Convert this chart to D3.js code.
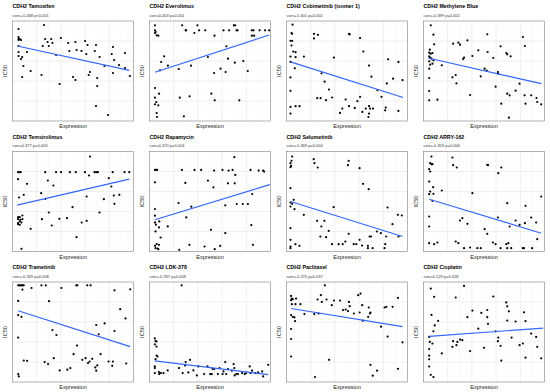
<!DOCTYPE html>
<html>
<head>
<meta charset="utf-8">
<script src="https://cdn.jsdelivr.net/npm/d3@7"></script>
<style>
  body { margin: 0; background: #fff; }
  svg { display: block; font-family: 'Liberation Sans', Arial, sans-serif; }
</style>
</head>
<body>
<svg id="chart" width="550" height="392"></svg>
<script>
// drug names, correlation and p values as printed in the subtitles
const drugs = ['Tamoxifen', 'Everolimus', 'Cobimetinib (isomer 1)', 'Methylene Blue',
  'Temsirolimus', 'Rapamycin', 'Selumetinib', 'ARRY-162',
  'Trametinib', 'LDK-378', 'Paclitaxel', 'Cisplatin'];
const corr = [-0.448, 0.403, -0.401, -0.399, 0.377, 0.370, -0.369, -0.353, -0.339, -0.337, -0.270, 0.129];
const pvals = ['p<0.001', 'p=0.001', 'p=0.002', 'p=0.002', 'p=0.003', 'p=0.004',
  'p=0.004', 'p=0.006', 'p=0.008', 'p=0.008', 'p=0.037', 'p=0.326'];

// fitted lm line, [expression, IC50] at both ends (scaled 0-100 per panel)
const fitStart = [[4, 75], [4.5, 48.7], [3.3, 59.1], [3.8, 63], [3.8, 46.3], [4.5, 31.8],
  [3.3, 50], [4.7, 52.3], [4.7, 71.2], [4.4, 21.2], [3.8, 73.5], [4.7, 45.7]];
const fitEnd = [[96.5, 50.7], [98.9, 86], [96.4, 23.5], [97.3, 37.3], [96.5, 72.3], [99.4, 66.9],
  [95.9, 15], [97.3, 18.3], [97.3, 35.4], [98.1, 7.3], [95.9, 55.3], [98.9, 53.9]];

// [expression, IC50] per cell line, scaled 0-100 per panel
const tamoxifen = [[5,92],[5,84],[5,82],[5,81],[6,82],[7,81],[5,75],[5,69],[5,65],[7,62],[8,64],[9,55],[8,44],[12,69],[15,50],[24,46],[26,96],[27,82],[25,75],[29,79],[30,75],[32,82],[33,78],[36,66],[39,37],[40,83],[46,78],[47,70],[50,44],[52,79],[52,41],[53,71],[57,70],[60,80],[62,76],[61,67],[64,49],[63,46],[68,70],[69,76],[72,64],[70,43],[70,35],[69,15],[76,55],[79,6],[82,67],[83,74],[84,61],[83,48],[88,56],[93,68],[93,53],[97,45]];
const everolimus = [[4.5,95.7],[4.5,90.7],[5.1,89],[4.5,88],[5.9,85.7],[7.3,85.3],[27,95.7],[29.8,90.7],[30.3,90.7],[39.6,95.7],[41,90.7],[37.1,88],[46.1,90.7],[53.7,85.3],[61.2,90.7],[65.7,90.7],[69.7,95.7],[70.8,95.7],[71.9,90.7],[72.8,90.7],[84.6,90.7],[86,90.7],[84.6,85.3],[86.5,85.3],[91,90.7],[95.5,90.7],[98.9,90.7],[63.5,74.7],[12.1,64.7],[9.6,59],[15.2,55.3],[8.7,50.7],[24.2,52],[34.3,55.3],[48.3,64],[64.9,62.3],[70.5,58.3],[77.5,60],[81.2,50],[58.7,52.3],[62.9,49],[53.4,48],[4.5,33],[7.9,27.3],[4.5,23.3],[5.6,19],[4.5,16.7],[7.3,15.7],[5.9,8],[6.2,4],[28.4,4.7],[25,23.3],[33.1,24.7],[51.1,27.3],[53.9,20.7],[74.2,20.7]];
const cobimetinib = [[5,96.3],[4.1,88],[4.7,87.2],[3.3,80.2],[4.7,80.2],[4.1,75.5],[5.5,69.5],[7.5,68.8],[7.5,63.8],[3.3,64.4],[14.4,64.4],[3.3,59.1],[6.9,52.7],[3.3,43.6],[3.3,30.2],[3.3,14.1],[3.3,7.4],[7.5,14.8],[10.8,14.8],[22.7,87.2],[22.7,82.6],[26,86.2],[51.7,87.2],[52.2,86.6],[60.8,82.9],[63.5,69.5],[39.2,63.4],[29,47.7],[31.5,39.3],[35.1,31.5],[25.4,22.8],[28.2,22.8],[32.6,20.8],[37.8,23.5],[48.9,21.5],[44.2,8.1],[46.1,12.4],[51.7,14.8],[56.4,13.1],[58.6,19.8],[60.8,24.2],[62.7,9.1],[65.5,12.4],[68.2,14.8],[69.1,12.4],[71.5,12.4],[67.7,4],[68.2,7.4],[68.2,55.4],[70.2,44.3],[75.1,30.9],[78.5,24.2],[82,13.4],[82.9,37.6],[84,61.7],[88.1,42.3],[92.5,59.1],[95.9,40.9],[92.5,10.1],[81.5,10.7]];
const methyleneBlue = [[6,95.7],[8.2,86.3],[8.8,76.7],[5.2,71.3],[4.7,68.3],[6,67.3],[7.4,68],[4.7,64.7],[5.5,63.3],[6.6,62.3],[8.2,60.7],[4.7,59.7],[7.4,57.3],[5.5,56.3],[4.7,52.3],[4.7,43],[4.7,30],[4.7,20.7],[11.5,21.3],[15.1,55.7],[24.5,77.3],[28.8,78.3],[30.2,76.3],[36.3,80.7],[33.5,63.3],[32.7,62],[40.4,65],[45.3,70.7],[53,69],[52.7,86.7],[57.7,63],[50.5,52.3],[52.2,50.3],[47.3,44.7],[23.9,43.7],[26.6,46],[27.2,37.7],[38.5,26],[61.5,49],[61.8,47.3],[59.6,34.3],[64.3,17.3],[63.7,74.7],[68.4,68],[69.2,66.7],[72,64.7],[69.2,27.3],[71.2,25.7],[76.1,30.3],[79.4,37.3],[82.1,84],[83.8,75],[83.5,25.7],[84.3,17.3],[89,25.7],[93.4,23],[94,19],[97.3,16.7],[70.6,3.3]];
const temsirolimus = [[4.6,79.3],[6,79.3],[6.8,79.3],[27,79.3],[36,79.3],[40.1,79.3],[47.4,79.3],[52.3,79.3],[59.9,79.3],[67.8,79.3],[69.2,79.3],[70.6,79.3],[82.8,79.3],[92.6,79.3],[96.5,79.3],[64,95],[4.6,72.3],[29.2,71],[12,67.7],[33.8,66],[63.2,76],[79.6,73.3],[23.7,58.3],[9.3,56.7],[5.4,54],[27.2,52.7],[61.3,55],[75.5,52.3],[83.7,56],[88.3,56.7],[81.7,65],[84.2,47.7],[49.6,44.3],[30,39],[71.9,39],[4.6,34.3],[6,34.3],[4.6,32.3],[6.5,31.7],[8.2,32.3],[6,30],[4.6,28.3],[7.4,29],[6,26.7],[4.6,27.3],[8.2,36],[15,22.7],[24.3,32.3],[32.4,26],[38.7,32.7],[45,33.3],[57.2,29],[61.3,30.7],[52.9,14.3],[7.4,2.7]];
const rapamycin = [[4.5,81.6],[5.3,81.6],[6.4,81.6],[26.8,81.6],[37.2,81.6],[42.7,81.6],[53.4,80.9],[60.3,81.6],[65.4,80.9],[68.7,81.6],[83.5,81.6],[90.2,80.9],[93.9,80.9],[94.7,79.9],[70.1,94.3],[4.5,69.2],[29.6,68.6],[48.3,70.9],[52.8,64.2],[64.8,68.2],[70.4,68.2],[70.9,76.6],[84.9,57.5],[24,48.5],[34.6,44.8],[62.6,46.2],[72.1,47.5],[77.1,47.5],[81.3,47.5],[4.5,42.5],[4.5,35.8],[4.5,29.1],[8.1,30.1],[5.3,26.8],[5,20.1],[7.8,24.1],[15.1,25.1],[30.4,34.1],[9.2,14],[5.9,7.4],[7.8,6.7],[4.5,5.7],[6.7,3],[5,3.3],[7.3,2.3],[24.6,1.7],[33,6.7],[45.5,5],[53.9,2.3],[58.4,5.7],[50.8,21.7],[62.6,18.4],[84.1,26.4],[85.5,6.7]];
const selumetinib = [[4.7,95],[4.1,90.7],[3.3,88.3],[3.8,85.7],[3.3,84.3],[22.5,92.3],[23.1,88.3],[25.8,84],[51.4,90.7],[50.8,86.3],[60.4,83.3],[63.2,67.7],[67.9,62.3],[3.3,63.3],[3.3,49],[3.3,45],[4.7,47.7],[6,51.7],[6.6,42.3],[14.3,36.7],[39,44.3],[25.3,30.7],[31.3,30.7],[28.8,25],[34.9,20.7],[28,15],[32.7,14.3],[37.6,7.3],[43.1,7.3],[46.4,7.3],[48.6,10],[55.5,7.3],[57.7,7.3],[51.4,17.7],[60.4,11.7],[62.4,6],[67.3,5.7],[68.7,15],[69.8,15],[71.2,3.3],[67.3,3.3],[74.7,20],[78,18.3],[81,3.3],[81.6,7.3],[82.4,15],[83.5,44],[87.6,27.3],[92,36.7],[95.3,36],[92.6,15],[3.3,23.3],[3.3,11.7],[7.4,7.3],[10.7,5.7],[3.3,5],[3.3,3.3]];
const arry162 = [[6.6,95],[5.5,88.3],[6.6,87.3],[7.4,87.3],[4.7,82.3],[5.5,80],[8,64.3],[5.5,60],[4.7,57.3],[8.2,57.7],[7.4,50.7],[15.1,61],[4.7,70],[23.9,94],[24.5,86.3],[27.5,84],[52.7,86.7],[53.3,86.3],[61.8,78.3],[64.3,84],[40.4,58.3],[32.1,33.3],[30.2,31],[36.3,27.7],[50.5,22.3],[52.7,17.7],[61.5,34],[69.2,48.3],[71.2,25],[76.1,31],[79.4,26.7],[83.8,28.3],[84.3,45.7],[89,34],[93.1,29],[97.3,55],[94,12.3],[4.7,35],[4.7,25],[4.7,8.3],[8.8,7.3],[11.5,9],[26.6,10],[28.8,8.3],[33.5,3.3],[38.5,4],[44.5,3.3],[47.3,3.3],[57.4,9],[59.6,7.3],[63.7,3.3],[68.4,7.3],[69.2,3.3],[70.1,8.3],[72.5,3.3],[83,3.3],[82.1,3.3],[89.8,3.3]];
const trametinib = [[4.7,96.7],[5.5,96.7],[6.6,96.7],[7.4,96.7],[8.2,96.7],[9.3,96.7],[8.2,92.4],[15.7,94],[23.9,96.7],[27.5,96.7],[40.4,94],[52.7,96.7],[53.6,96.7],[61.8,96.7],[64.6,96.7],[84.3,91.7],[97.3,92.7],[4.7,81.1],[30.2,80.8],[4.7,66.9],[7.4,65.2],[89,72.8],[93.4,63.6],[33,52],[36.3,47],[69.2,57],[76.1,58.6],[84.3,51],[71.2,47.7],[4.7,44.4],[53.3,36.4],[50.5,27.8],[72.8,27.8],[9.3,21.5],[12.1,21.2],[26.6,19.9],[29.4,17.9],[34.1,23.8],[39,11.6],[45.3,12.3],[47.8,13.9],[57.7,22.2],[60.4,23.8],[62.4,18.9],[63.7,20.5],[65.9,23.2],[68.4,14.6],[69.2,11.3],[70.1,16.6],[79.4,20.5],[83,20.5],[82.4,16.2],[94,18.5],[4.7,7.9],[5.2,5.6]];
const ldk378 = [[26.6,96.7],[4.4,43.7],[5,41.1],[5.8,40.4],[4.4,37.7],[5.8,35.4],[5.8,26.5],[6.6,25.5],[5,22.8],[4.4,15.6],[4.4,13.9],[4.4,8.9],[7.8,9.9],[8,7.9],[9.4,8.9],[11.6,8.9],[15,11.6],[24.4,13.9],[29.9,19.9],[29.4,16.6],[33.5,22.2],[27.4,8.9],[32.1,9.6],[36.3,11.6],[40.4,15.6],[39.1,6.6],[45.2,7.9],[47.9,15.6],[50.1,7.9],[51.5,7.9],[52.1,13.2],[53.5,12.9],[56.5,7.9],[57.9,13.9],[60.4,7.9],[61.2,10.6],[62.6,19.9],[63.4,7.9],[64.8,12.9],[68.1,11.3],[69.5,17.9],[70.1,13.9],[70.4,6.6],[71.7,7.9],[73.1,7.9],[76.5,8.9],[78.7,7.9],[79.8,8.9],[82.8,15.6],[83.4,8.9],[84.8,11.3],[87.5,8.9],[89.8,9.6],[93.1,10.6],[93.9,5.6],[98.1,17.2]];
const paclitaxel = [[3.8,86.1],[4.4,83.4],[5.2,82.8],[3.8,81.8],[7.9,83.4],[4.4,77.8],[7.4,77.8],[11.5,77.8],[3.8,66.9],[5.2,65.2],[6.6,64.6],[7.1,60.9],[14.8,67.9],[3.8,53],[3.8,43],[3.8,25.5],[31.7,96.7],[28.4,86.8],[25.7,82.5],[29.2,80.1],[33.1,82.5],[39.3,81.5],[44.3,81.5],[37.4,76.8],[51.6,80.1],[52.2,75.8],[46.7,71.9],[48.9,72.5],[50.8,70.9],[55.7,68.5],[59.3,86.8],[61.2,88.4],[62.6,76.8],[60.4,69.5],[63.1,61.3],[68,74.5],[67.5,65.2],[68.9,68.5],[69.4,69.5],[78.1,55.3],[81.1,74.5],[82.5,75.2],[87.7,75.2],[92.1,84.1],[83.6,45.4],[95.9,39.7],[23,67.9],[26.5,68.5],[35.2,22.2],[23.5,5],[69.4,17.2],[71.3,6.3],[74.9,11.3],[92.1,13.2]];
const cisplatin = [[6,93.4],[8.8,85.2],[33.5,96.1],[26.6,84.5],[57.7,85.5],[68.4,79.6],[69.2,75.7],[70.6,70.7],[83,69.7],[84.3,60.9],[69.2,61.5],[76.1,60.5],[72.8,44.4],[61.8,44.4],[61.5,40.8],[63.7,36.2],[64.3,21.4],[50,34.2],[52.7,72],[52.7,64.8],[53.3,58.2],[47.8,69.1],[40.4,71.4],[36.3,64.8],[45.3,53.3],[38.5,30.9],[30.2,42.4],[24.5,40.8],[28,40.1],[32.1,41.8],[23.9,35.2],[27.2,36.8],[15.1,28.6],[12.1,61.2],[9.3,56.6],[8.2,50.7],[6.6,67.1],[5.2,40.1],[7.4,38.5],[4.7,45.1],[4.7,32.9],[4.7,26.3],[4.7,22.7],[4.7,15.5],[6,7.2],[8.2,4.9],[59.6,50.7],[79.4,36.8],[82.1,38.5],[84.3,24.3],[89,48.4],[93.1,45.1],[94,35.2],[97.3,23.7]];

const points = [tamoxifen, everolimus, cobimetinib, methyleneBlue, temsirolimus, rapamycin,
  selumetinib, arry162, trametinib, ldk378, paclitaxel, cisplatin];

const svg = d3.select('#chart');
const pw = 121, ph = 100;

drugs.forEach((name, i) => {
  const col = i % 4, row = Math.floor(i / 4);
  const left = 12.5 + col * 137, top = 21 + row * 130.5;
  const g = svg.append('g').attr('transform', `translate(${left},${top})`);

  const x = d3.scaleLinear().domain([0, 100]).range([0, pw]);
  const y = d3.scaleLinear().domain([0, 100]).range([ph, 0]);

  // grid (major + minor), like theme_bw
  const xt = x.ticks(5).filter(t => t > 0 && t < 100);
  const yt = y.ticks(5).filter(t => t > 0 && t < 100);
  const xm = x.ticks(10).filter(t => !xt.includes(t) && t > 0 && t < 100);
  const ym = y.ticks(10).filter(t => !yt.includes(t) && t > 0 && t < 100);
  g.selectAll('.gxm').data(xm).join('line')
    .attr('x1', d => x(d)).attr('x2', d => x(d)).attr('y1', 0).attr('y2', ph)
    .attr('stroke', '#f3f3f3').attr('stroke-width', 0.4);
  g.selectAll('.gym').data(ym).join('line')
    .attr('y1', d => y(d)).attr('y2', d => y(d)).attr('x1', 0).attr('x2', pw)
    .attr('stroke', '#f3f3f3').attr('stroke-width', 0.4);
  g.selectAll('.gx').data(xt).join('line')
    .attr('x1', d => x(d)).attr('x2', d => x(d)).attr('y1', 0).attr('y2', ph)
    .attr('stroke', '#e4e4e4').attr('stroke-width', 0.6);
  g.selectAll('.gy').data(yt).join('line')
    .attr('y1', d => y(d)).attr('y2', d => y(d)).attr('x1', 0).attr('x2', pw)
    .attr('stroke', '#e4e4e4').attr('stroke-width', 0.6);

  g.selectAll('circle').data(points[i]).join('circle')
    .attr('cx', d => x(d[0])).attr('cy', d => y(d[1])).attr('r', 1.1)
    .attr('fill', '#000');

  g.append('line')
    .attr('x1', x(fitStart[i][0])).attr('y1', y(fitStart[i][1]))
    .attr('x2', x(fitEnd[i][0])).attr('y2', y(fitEnd[i][1]))
    .attr('stroke', '#3366FF').attr('stroke-width', 1.2);

  g.append('rect').attr('width', pw).attr('height', ph)
    .attr('fill', 'none').attr('stroke', '#808080').attr('stroke-width', 0.6);

  g.append('text').attr('x', 0).attr('y', -13)
    .style('font-size', '5.3px').style('font-weight', 'bold').attr('fill', '#000')
    .text('CDH2 ' + name);
  g.append('text').attr('x', 0).attr('y', -4.5)
    .style('font-size', '4px').attr('fill', '#333')
    .text(`corr=${corr[i].toFixed(3)} ${pvals[i]}`);
  g.append('text').attr('x', pw / 2).attr('y', ph + 7)
    .attr('text-anchor', 'middle').style('font-size', '5.6px').attr('fill', '#222')
    .text('Expression');
  g.append('text').attr('transform', `translate(-5.5,${ph / 2}) rotate(-90)`)
    .attr('text-anchor', 'middle').style('font-size', '5.6px').attr('fill', '#222')
    .text('IC50');
});
</script>
</body>
</html>
